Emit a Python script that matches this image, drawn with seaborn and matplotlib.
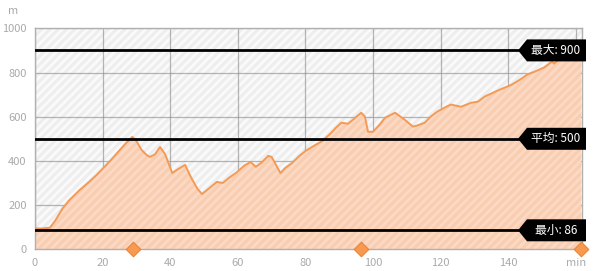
import matplotlib
matplotlib.use("Agg")
import matplotlib.pyplot as plt
import matplotlib.transforms as mtransforms
from matplotlib.patches import Polygon, Rectangle
import seaborn as sns
import pandas as pd

minutes = [0, 2, 4.4, 6, 8.2, 10, 13.2, 16, 18.2, 21, 23, 25, 27, 28.8, 30, 31.5, 33, 34,
           35.5, 37, 38.5, 40.6, 42, 44.4, 46, 48, 49.4, 51, 53.8, 55.5, 57.5, 59.4, 62,
           63.8, 65.3, 67, 69, 70, 72.6, 74, 76, 78, 80, 83, 85, 87.6, 89, 90.6, 92.6,
           94.7, 96.5, 97.6, 98.5, 100, 102, 103.5, 106.5, 109.4, 111.8, 113, 115.3, 117,
           119, 121, 123, 126, 129, 131, 133, 136.8, 139, 141, 143.5, 145.6, 148, 150.6,
           153, 153.5, 155, 158, 161.5]
elevation = [95, 94, 98, 130, 186, 220, 268, 305, 336, 380, 413, 448, 482, 509, 490, 450,
             427, 418, 430, 463, 430, 345, 360, 382, 330, 275, 250, 270, 305, 300, 325,
             345, 380, 395, 373, 392, 423, 418, 345, 368, 390, 420, 445, 473, 490, 527,
             550, 573, 568, 595, 618, 600, 532, 532, 565, 595, 618, 586, 555, 560, 573,
             600, 623, 640, 655, 645, 663, 668, 691, 718, 732, 745, 768, 791, 805, 823,
             850, 840, 860, 880, 900]

ref_values = [900, 500, 86]
ref_labels = ["最大: 900", "平均: 500", "最小: 86"]
marker_minutes = [29, 96.5, 161.5]
marker_values = [0, 0, 0]
x_ticks = [0, 20, 40, 60, 80, 100, 120, 140, 160]
x_tick_labels = ["0", "20", "40", "60", "80", "100", "120", "140", "min"]
y_ticks = [0, 200, 400, 600, 800, 1000]

sns.set_theme(style="white")
plt.rcParams["font.family"] = ["Noto Sans CJK SC", "DejaVu Sans"]
plt.rcParams["hatch.linewidth"] = 2.0

df = pd.DataFrame({"minute": minutes, "elevation": elevation})
mk = pd.DataFrame({"minute": marker_minutes, "value": marker_values})

fig = plt.figure(figsize=(5.96, 2.71), dpi=100)
ax = fig.add_axes([35 / 596, 1 - 249.3 / 271, (582 - 35) / 596, (249.3 - 28.3) / 271])
ax.set_xlim(0, 161.8)
ax.set_ylim(0, 1000)

# background with hatch
bg = Rectangle((0, 0), 1, 1, transform=ax.transAxes, facecolor="#eeeeee",
               edgecolor="#fafafa", hatch="////", linewidth=0, zorder=0)
ax.add_patch(bg)

ax.fill_between(df["minute"], df["elevation"], 0, facecolor="#f9cdb0",
                edgecolor="#fbd9c4", hatch="////", linewidth=0, zorder=1)
sns.lineplot(data=df, x="minute", y="elevation", ax=ax, color="#f49a57",
             linewidth=1.4, zorder=3)

ax.set_xticks(x_ticks)
ax.set_xticklabels(x_tick_labels)
ax.set_yticks(y_ticks)
ax.grid(True, color="#8f8f8f", alpha=0.65, linewidth=0.9)
for ln in ax.get_xgridlines() + ax.get_ygridlines():
    ln.set_zorder(2)
for sp in ax.spines.values():
    sp.set_color("#b0b0b0")
    sp.set_linewidth(1)
    sp.set_zorder(2)
ax.tick_params(axis="both", length=0, labelsize=8, labelcolor="#aaaaaa")
ax.tick_params(axis="x", pad=6)
ax.tick_params(axis="y", pad=6)

# reference lines with arrow-shaped labels (offsets in pixels at dpi 100)
px = 1 / 100.0
base = mtransforms.blended_transform_factory(ax.transAxes, ax.transData)
shape = [(-64, 0), (-55, 11), (4, 11), (4, -11), (-55, -11)]
for val, lab in zip(ref_values, ref_labels):
    ax.axhline(val, color="black", linewidth=2, zorder=4)
    anchor = mtransforms.ScaledTranslation(1, val, base)
    poly_tr = mtransforms.Affine2D().scale(fig.dpi * px) + anchor
    poly = Polygon(shape, closed=True, facecolor="black", edgecolor="none",
                   zorder=6, clip_on=False, transform=poly_tr)
    ax.add_patch(poly)
    ax.text(1, val, lab,
            transform=base + mtransforms.ScaledTranslation(-26 * px, 0, fig.dpi_scale_trans),
            ha="center", va="center", color="white", fontsize=8.5, zorder=7, clip_on=False)

sns.scatterplot(data=mk, x="minute", y="value", ax=ax, marker="D", s=55,
                color="#f7994f", edgecolor="#e8843e", linewidth=0.8, zorder=8, clip_on=False)
ax.set_xlabel("")
ax.set_ylabel("")

fig.text(8 / 596, 1 - 11 / 271, "m", color="#aaaaaa", fontsize=8, ha="left", va="center")

fig.savefig("out.png", dpi=100)
